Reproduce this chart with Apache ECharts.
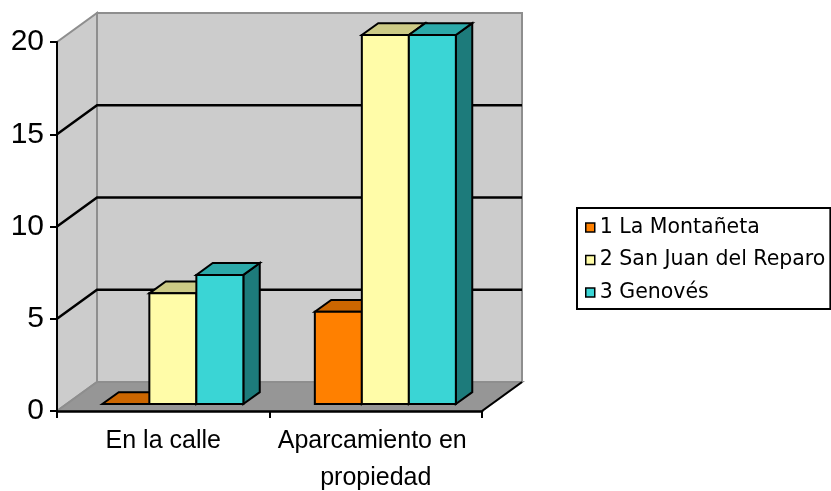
<!DOCTYPE html>
<html><head><meta charset="utf-8">
<script src="https://cdn.jsdelivr.net/npm/echarts/dist/echarts.min.js"></script>
<style>html,body{margin:0;padding:0;background:#fff}#c{width:831px;height:491px}</style>
</head><body><div id="c"></div>
<script>
// ---- data ----
const categories = ['En la calle', 'Aparcamiento en propiedad'];
const seriesNames = ['1 La Montañeta', '2 San Juan del Reparo', '3 Genovés'];
const laMontaneta = [0, 5];
const sanJuanDelReparo = [6, 20];
const genoves = [7, 20];
const yTicks = [0, 5, 10, 15, 20];

// ---- styling constants ----
const DX = 40, DY = -29;           // depth offset of back wall
const F_FRONT = 0.24, F_DEPTH = 0.41; // bar depth position (fraction of depth)
const BAR_FRAC = 0.2212;           // bar width as fraction of category band
const WALL = '#CCCCCC', FLOOR = '#969696', EDGE = '#8E8E8E';
const palette = [
  {front:'#FF8000', top:'#CC6600', side:'#804000'},
  {front:'#FFFCA8', top:'#CCCA86', side:'#807E54'},
  {front:'#3AD5D5', top:'#2BA9A9', side:'#1D7B7B'}
];
const seriesValues = [laMontaneta, sanJuanDelReparo, genoves];

function renderWalls(params, api) {
  const cs = params.coordSys;
  const x0 = cs.x, x1 = cs.x + cs.width;
  const yb = api.coord([0, yTicks[0]])[1];
  const yt = api.coord([0, yTicks[yTicks.length - 1]])[1];
  const ch = [];
  ch.push({type:'rect', shape:{x:x0+DX, y:yt+DY, width:x1-x0, height:yb-yt},
    style:{fill:WALL, stroke:EDGE, lineWidth:2}});
  ch.push({type:'polygon', shape:{points:[[x0,yb],[x0+DX,yb+DY],[x0+DX,yt+DY],[x0,yt]]},
    style:{fill:WALL, stroke:EDGE, lineWidth:2}});
  ch.push({type:'polygon', shape:{points:[[x0,yb],[x1,yb],[x1+DX,yb+DY],[x0+DX,yb+DY]]},
    style:{fill:FLOOR, stroke:EDGE, lineWidth:2}});
  ch.push({type:'line', shape:{x1:x1, y1:yb, x2:x1+DX, y2:yb+DY},
    style:{stroke:'#000', lineWidth:2}});
  yTicks.forEach(function (v, i) {
    if (i === 0 || i === yTicks.length - 1) return;
    const y = api.coord([0, v])[1];
    ch.push({type:'polyline', shape:{points:[[x0,y],[x0+DX,y+DY],[x1+DX,y+DY]]},
      style:{stroke:'#000', lineWidth:2.5, fill:null}});
  });
  return {type:'group', children:ch};
}

function makeBarRenderer(k) {
  const c = palette[k];
  return function (params, api) {
    const cat = api.value(0), v = api.value(1);
    const base = api.coord([cat, 0]);
    const top = api.coord([cat, v]);
    const band = api.size([1, 0])[0];
    const w = band * BAR_FRAC;
    const ddx = DX * F_DEPTH, ddy = DY * F_DEPTH;
    const xl = base[0] + (k - 1.5) * w + DX * F_FRONT;
    const xr = xl + w;
    const yb = base[1] + DY * F_FRONT;
    const yt = top[1] + DY * F_FRONT;
    const st = {stroke:'#000', lineWidth:2, lineJoin:'miter'};
    return {type:'group', children:[
      {type:'polygon', shape:{points:[[xr,yb],[xr+ddx,yb+ddy],[xr+ddx,yt+ddy],[xr,yt]]},
        style:Object.assign({fill:c.side}, st)},
      {type:'polygon', shape:{points:[[xl,yt],[xr,yt],[xr+ddx,yt+ddy],[xl+ddx,yt+ddy]]},
        style:Object.assign({fill:c.top}, st)},
      {type:'rect', shape:{x:xl, y:yt, width:w, height:yb-yt},
        style:Object.assign({fill:c.front}, st)}
    ]};
  };
}

const series = [{
  type:'custom', name:'walls', silent:true, z:1, clip:false,
  renderItem:renderWalls, data:[[0, 0]], encode:{x:0, y:1}
}];
seriesValues.forEach(function (vals, k) {
  series.push({
    type:'custom', name:seriesNames[k], z:3 + k, clip:false,
    itemStyle:{color:palette[k].front},
    renderItem:makeBarRenderer(k),
    data:vals.map(function (v, i) { return [i, v]; }),
    encode:{x:0, y:1}
  });
});

const chart = echarts.init(document.getElementById('c'), null, {renderer:'canvas'});
chart.setOption({
  animation:false,
  backgroundColor:'#ffffff',
  grid:{left:57, top:42, width:425, height:369, containLabel:false, outerBoundsMode:'none'},
  legend:{
    orient:'vertical', left:577, top:208,
    data:seriesNames,
    icon:'rect', itemWidth:9, itemHeight:9, itemGap:11.5,
    padding:[9, 5, 6, 8],
    borderColor:'#000', borderWidth:2, borderRadius:0,
    backgroundColor:'#fff',
    itemStyle:{borderColor:'#000', borderWidth:1.5},
    textStyle:{fontFamily:'DejaVu Sans', fontSize:20.5, color:'#000', lineHeight:21},
    selectedMode:false
  },
  xAxis:{
    type:'category', data:categories, z:10,
    axisLine:{show:true, lineStyle:{color:'#000', width:2.5}},
    axisTick:{show:true, length:7, lineStyle:{color:'#000', width:2}},
    axisLabel:{interval:0, margin:12, color:'#000', fontFamily:'Liberation Sans',
      fontSize:25, lineHeight:37, width:210, overflow:'break'},
    splitLine:{show:false}
  },
  yAxis:{
    type:'value', min:yTicks[0], max:yTicks[yTicks.length-1], interval:5, z:10,
    axisLine:{show:true, lineStyle:{color:'#000', width:2}},
    axisTick:{show:true, length:7, lineStyle:{color:'#000', width:2}},
    axisLabel:{margin:13, color:'#000', fontFamily:'Liberation Sans', fontSize:30,
      padding:[0, 0, 5, 0]},
    splitLine:{show:false}
  },
  series:series
});
</script></body></html>
